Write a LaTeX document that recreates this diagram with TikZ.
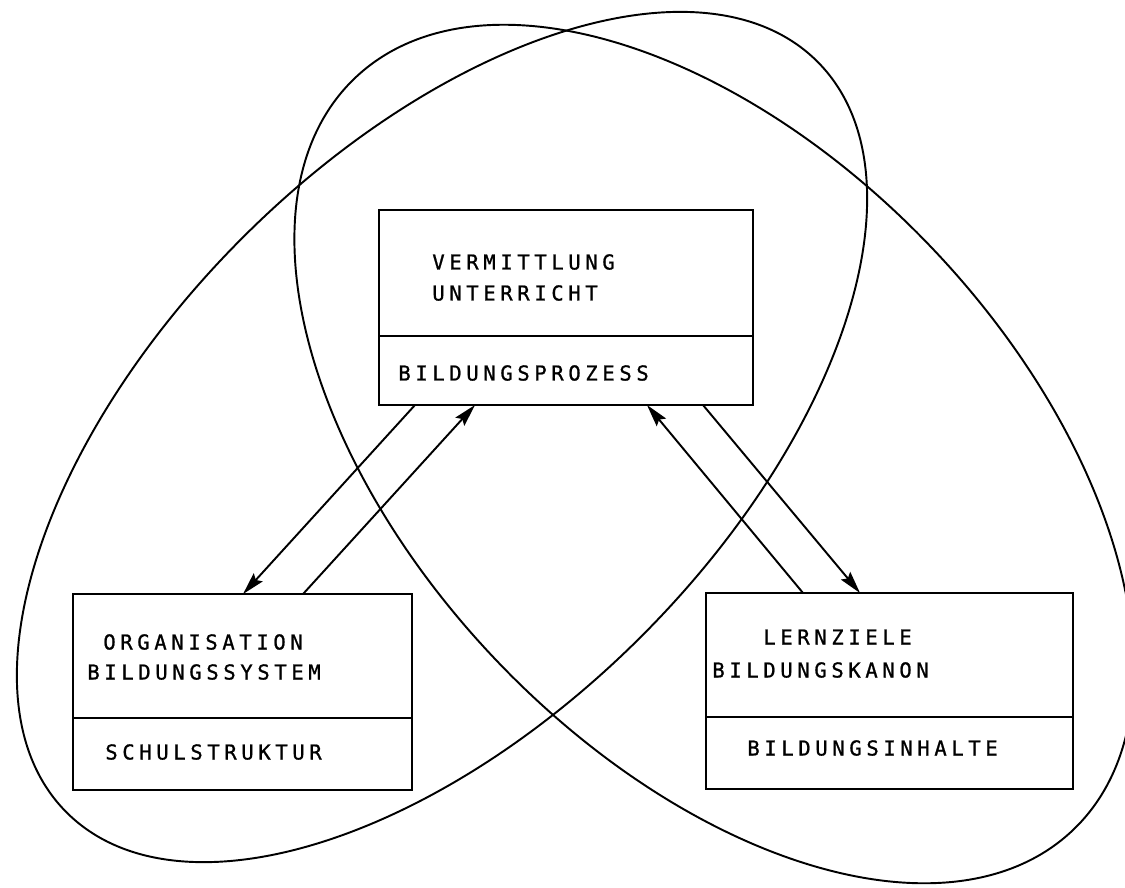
\documentclass[tikz,border=0pt]{standalone}
\usepackage{fontspec}
\newfontfamily\plotfont[LetterSpace=22.5, FakeBold=1]{DejaVu Sans Mono}
\usetikzlibrary{arrows.meta, calc, positioning}

\tikzset{
	kasten/.style={draw, line width=1.6pt, inner sep=0pt, outer sep=0pt},
	schrift/.style={anchor=west, inner sep=0pt, font=\plotfont\fontsize{11.7pt}{14pt}\selectfont},
	pfeil/.style={line width=1.1pt, -{Stealth[length=0.45cm, width=0.24cm, inset=0.07cm]}},
	schleife/.style={line width=1.1pt}
}

\begin{document}
\begin{tikzpicture}[x=0.02cm, y=-0.02cm]
		\useasboundingbox (0,0) rectangle (1125,887);
		% die beiden Schleifen
		\draw[schleife, rotate around={45:(442,437)}] (442,437) ellipse [x radius=10.62cm, y radius=5.64cm];
		\draw[schleife, rotate around={-46.3:(714,454)}] (714,454) ellipse [x radius=10.4cm, y radius=6cm];
		% Kaesten
		\node[kasten, minimum width=7.48cm, minimum height=2.52cm] (verm) at (566,273) {};
		\node[kasten, minimum width=7.48cm, minimum height=1.38cm, below=0pt of verm] (proz) {};
		\node[kasten, minimum width=6.78cm, minimum height=2.48cm] (org) at (242.5,656) {};
		\node[kasten, minimum width=6.78cm, minimum height=1.44cm, below=0pt of org] (schul) {};
		\node[kasten, minimum width=7.34cm, minimum height=2.48cm] (lern) at (889.5,655) {};
		\node[kasten, minimum width=7.34cm, minimum height=1.44cm, below=0pt of lern] (inhalt) {};
		% Beschriftung
		\node[schrift] (t1) at (432,262) {VERMITTLUNG};
		\node[schrift] (t2) at (432,293) {UNTERRICHT};
		\node[schrift] (t3) at (398,373) {BILDUNGSPROZESS};
		\node[schrift] (t4) at (103,642) {ORGANISATION};
		\node[schrift] (t5) at (87,672) {BILDUNGSSYSTEM};
		\node[schrift] (t6) at (105,752) {SCHULSTRUKTUR};
		\node[schrift] (t7) at (763,637) {LERNZIELE};
		\node[schrift] (t8) at (712,670) {BILDUNGSKANON};
		\node[schrift] (t9) at (747,748) {BILDUNGSINHALTE};
		% Pfeile
		\draw[pfeil] ($(proz.south west)+(36,0)$) -- ($(org.north west)+(170,0)$);
		\draw[pfeil] ($(org.north west)+(230,0)$) -- ($(proz.south west)+(96,0)$);
		\draw[pfeil] ($(lern.north west)+(97,0)$) -- ($(proz.south east)+(-106,0)$);
		\draw[pfeil] ($(proz.south east)+(-50,0)$) -- ($(lern.north west)+(154,0)$);
	\end{tikzpicture}
\end{document}
